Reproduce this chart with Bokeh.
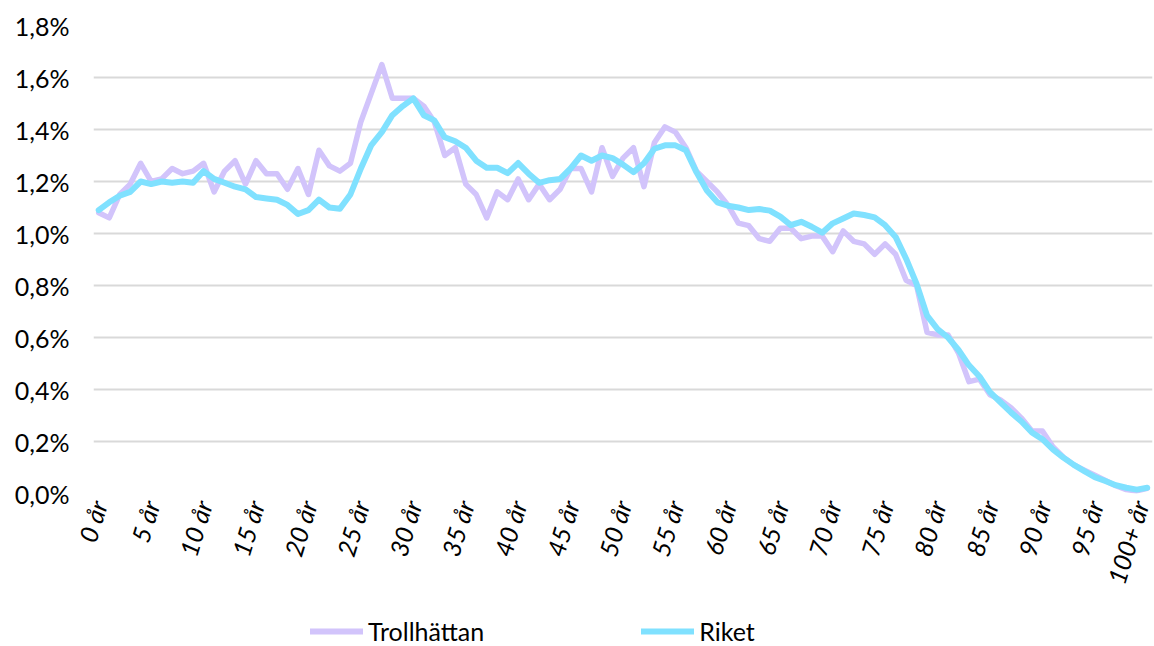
import math

from bokeh.embed import file_html
from bokeh.resources import INLINE
from bokeh.plotting import figure
from bokeh.layouts import column
from bokeh.models import (Range1d, FixedTicker, CustomJSTickFormatter,
                          Legend, LegendItem)

# Age groups (one-year classes, last class open-ended)
age_labels = [f"{i} år" for i in range(100)] + ["100+ år"]
age_index = list(range(len(age_labels)))

# Share of population per age, in percent
trollhattan = [
    1.08, 1.06, 1.15, 1.19, 1.27, 1.20, 1.21, 1.25, 1.23, 1.24,
    1.27, 1.16, 1.24, 1.28, 1.19, 1.28, 1.23, 1.23, 1.17, 1.25,
    1.15, 1.32, 1.26, 1.24, 1.27, 1.43, 1.54, 1.65, 1.52, 1.52,
    1.52, 1.49, 1.43, 1.30, 1.33, 1.19, 1.15, 1.06, 1.16, 1.13,
    1.21, 1.13, 1.19, 1.13, 1.17, 1.25, 1.25, 1.16, 1.33, 1.22,
    1.29, 1.33, 1.18, 1.35, 1.41, 1.39, 1.33, 1.24, 1.20, 1.16,
    1.11, 1.04, 1.03, 0.98, 0.97, 1.02, 1.02, 0.98, 0.99, 0.99,
    0.93, 1.01, 0.97, 0.96, 0.92, 0.96, 0.92, 0.82, 0.80, 0.62,
    0.61, 0.61, 0.54, 0.43, 0.44, 0.38, 0.36, 0.33, 0.29, 0.24,
    0.24, 0.18, 0.14, 0.11, 0.09, 0.07, 0.05, 0.03, 0.015, 0.01,
    0.02,
]
riket = [
    1.09, 1.12, 1.145, 1.16, 1.20, 1.19, 1.20, 1.195, 1.20, 1.195,
    1.24, 1.21, 1.195, 1.18, 1.17, 1.14, 1.135, 1.13, 1.11, 1.075,
    1.09, 1.13, 1.10, 1.095, 1.15, 1.25, 1.34, 1.39, 1.455, 1.49,
    1.52, 1.455, 1.435, 1.37, 1.355, 1.33, 1.28, 1.253, 1.253, 1.232,
    1.271, 1.23, 1.195, 1.205, 1.21, 1.25, 1.30, 1.28, 1.30, 1.29,
    1.265, 1.236, 1.27, 1.326, 1.339, 1.339, 1.32, 1.236, 1.165, 1.12,
    1.107, 1.10, 1.09, 1.094, 1.088, 1.065, 1.032, 1.045, 1.026, 1.003,
    1.039, 1.058, 1.077, 1.071, 1.062, 1.032, 0.987, 0.903, 0.806, 0.684,
    0.632, 0.60, 0.552, 0.493, 0.45, 0.39, 0.351, 0.312, 0.277, 0.235,
    0.209, 0.17, 0.138, 0.11, 0.086, 0.063, 0.048, 0.032, 0.022, 0.015,
    0.022,
]
series_names = ["Trollhättan", "Riket"]

y_ticks = [0.0, 0.2, 0.4, 0.6, 0.8, 1.0, 1.2, 1.4, 1.6, 1.8]
x_ticks = list(range(0, 101, 5))

FONT = "Lato"
COL_T = "#D2C4FB"
COL_R = "#80E1FF"
GRID = "#D9D9D9"

# ---- main chart -------------------------------------------------------
p = figure(
    width=1154, height=600,
    x_range=Range1d(-0.5, len(age_labels) - 0.5),
    y_range=Range1d(0, 1.8),
    output_backend="svg", toolbar_location=None,
    min_border_left=93, min_border_right=2,
    min_border_top=25, min_border_bottom=107,
    background_fill_color="white", border_fill_color="white",
    outline_line_color=None,
)

p.line(age_index, trollhattan, line_color=COL_T, line_width=5.5,
       line_join="round", line_cap="round")
p.line(age_index, riket, line_color=COL_R, line_width=6,
       line_join="round", line_cap="round")

# y axis: percent with decimal comma
yax = p.yaxis[0]
yax.ticker = FixedTicker(ticks=y_ticks)
yax.formatter = CustomJSTickFormatter(
    code="return tick.toFixed(1).replace('.', ',') + '%';")
yax.axis_line_color = None
yax.major_tick_out = 0
yax.major_tick_in = 0
yax.minor_tick_out = 0
yax.minor_tick_in = 0
yax.major_label_standoff = 24
yax.major_label_text_font = FONT
yax.major_label_text_font_size = "25px"
yax.major_label_text_color = "#000000"

# x axis: every fifth age label, rotated and italic
xax = p.xaxis[0]
xax.ticker = FixedTicker(ticks=x_ticks)
xax.formatter = CustomJSTickFormatter(
    args=dict(labels=age_labels),
    code="return labels[Math.round(tick)];")
xax.axis_line_color = None
xax.major_tick_out = 0
xax.major_tick_in = 0
xax.minor_tick_out = 0
xax.minor_tick_in = 0
xax.major_label_orientation = math.radians(73)
xax.major_label_standoff = 8
xax.major_label_text_font = FONT
xax.major_label_text_font_style = "italic"
xax.major_label_text_font_size = "25px"
xax.major_label_text_color = "#000000"

p.xgrid.grid_line_color = None
p.ygrid.ticker = FixedTicker(ticks=y_ticks)
p.ygrid.grid_line_color = GRID
p.ygrid.grid_line_width = 2

# ---- legend strip below the chart -------------------------------------
# The series are drawn here too, but the view range lies outside the data,
# so only their legend keys show.
lg = figure(
    width=1154, height=46,
    x_range=Range1d(-20, -10), y_range=Range1d(0, 1),
    output_backend="svg", toolbar_location=None,
    x_axis_location=None, y_axis_location=None,
    min_border=0, min_border_left=0, min_border_right=0,
    min_border_top=0, min_border_bottom=0,
    outline_line_color=None,
    background_fill_color="white", border_fill_color="white",
)
lg.xgrid.visible = False
lg.ygrid.visible = False
key_t = lg.line(age_index, trollhattan, line_color=COL_T, line_width=6,
                line_cap="round")
key_r = lg.line(age_index, riket, line_color=COL_R, line_width=6,
                line_cap="round")

legend = Legend(
    items=[LegendItem(label=series_names[0], renderers=[key_t]),
           LegendItem(label=series_names[1], renderers=[key_r])],
    orientation="horizontal",
    location=(217, 0),
    spacing=157,
    glyph_width=53, glyph_height=20,
    label_standoff=5,
    label_text_font=FONT, label_text_font_size="25px",
    label_text_color="#000000",
    border_line_color=None, background_fill_alpha=0,
    padding=0, margin=0,
)
lg.add_layout(legend, "center")

layout = column(p, lg, spacing=0)

open("out.html", "w").write(file_html(layout, INLINE))
